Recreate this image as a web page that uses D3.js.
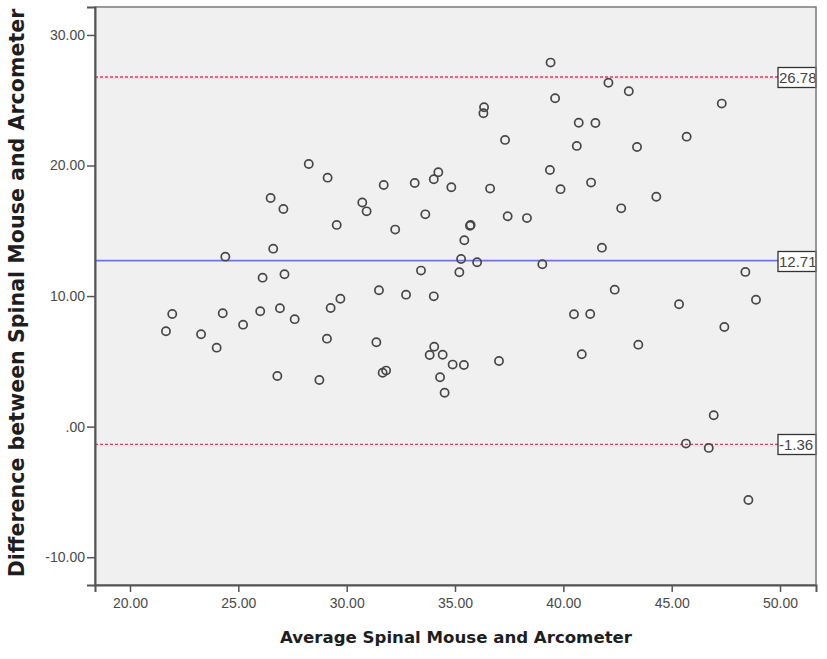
<!DOCTYPE html>
<html>
<head>
<meta charset="utf-8">
<script src="https://cdn.jsdelivr.net/npm/d3@7"></script>
<style>
  html, body { margin: 0; padding: 0; background: #ffffff; }
  svg { display: block; }
</style>
</head>
<body>
<svg id="chart" width="827" height="659"></svg>
<script>
// ---- data ----
const averages = [
  26.49, 27.08, 39.41, 39.62, 36.34, 36.31, 37.31, 28.25, 29.12, 31.71,
  33.14, 34.23, 34.02, 34.83, 36.62, 39.38, 39.87, 30.72, 30.92, 33.63,
  37.43, 38.32, 42.08, 43.02, 47.31, 40.71, 41.48, 40.62, 43.40, 45.69,
  41.28, 44.29, 42.67, 24.40, 26.61, 26.12, 27.13, 21.95, 21.66, 24.28,
  23.28, 24.00, 25.22, 26.01, 26.92, 27.60, 26.80, 29.54, 32.24, 35.69,
  35.72, 35.43, 35.28, 36.02, 39.03, 33.43, 35.20, 31.49, 32.74, 34.02,
  29.71, 29.26, 29.09, 31.37, 34.04, 33.83, 34.43, 34.89, 35.41, 37.03,
  28.74, 31.66, 31.82, 34.31, 34.52, 41.78, 48.40, 42.37, 48.89, 45.34,
  40.49, 41.24, 47.43, 43.46, 40.85, 46.94, 45.66, 46.71, 48.54
];
const differences = [
  17.51, 16.67, 27.88, 25.15, 24.46, 24.00, 21.96, 20.12, 19.07, 18.51,
  18.66, 19.48, 18.95, 18.33, 18.23, 19.66, 18.19, 17.17, 16.49, 16.26,
  16.11, 15.97, 26.34, 25.69, 24.74, 23.28, 23.26, 21.50, 21.42, 22.21,
  18.69, 17.61, 16.72, 13.02, 13.63, 11.41, 11.67, 8.63, 7.30, 8.68,
  7.07, 6.05, 7.81, 8.84, 9.07, 8.23, 3.88, 15.45, 15.09, 15.39,
  15.45, 14.27, 12.84, 12.59, 12.44, 11.95, 11.82, 10.44, 10.11, 9.98,
  9.80, 9.09, 6.74, 6.46, 6.12, 5.49, 5.51, 4.75, 4.72, 5.03,
  3.57, 4.13, 4.29, 3.78, 2.60, 13.71, 11.85, 10.49, 9.72, 9.37,
  8.61, 8.63, 7.63, 6.28, 5.54, 0.87, -1.30, -1.63, -5.62
];
const refValues = [26.78, 12.71, -1.36];
const refLabels = ["26.78", "12.71", "-1.36"];
const refKinds = ["limit", "mean", "limit"];
const xTickValues = [20, 25, 30, 35, 40, 45, 50];
const xTickLabels = ["20.00", "25.00", "30.00", "35.00", "40.00", "45.00", "50.00"];
const yTickValues = [-10, 0, 10, 20, 30];
const yTickLabels = ["-10.00", ".00", "10.00", "20.00", "30.00"];
const xTitle = "Average Spinal Mouse and Arcometer";
const yTitle = "Difference between Spinal Mouse and Arcometer";

// ---- layout ----
const plot = { left: 95, right: 816, top: 7, bottom: 585 };
const svg = d3.select("#chart");

const x = d3.scaleLinear().domain([18.385, 51.66]).range([plot.left, plot.right]);
const y = d3.scaleLinear().domain([-12.13, 32.14]).range([plot.bottom, plot.top]);

// plot background
svg.append("rect")
  .attr("x", plot.left).attr("y", plot.top)
  .attr("width", plot.right - plot.left).attr("height", plot.bottom - plot.top)
  .attr("fill", "#f0f0f0");

// reference lines
const boxW = 38, boxH = 20;
refValues.forEach((v, i) => {
  const yy = y(v);
  if (refKinds[i] === "mean") {
    svg.append("line")
      .attr("x1", plot.left).attr("x2", plot.right - boxW)
      .attr("y1", yy).attr("y2", yy)
      .attr("stroke", "#7070f4").attr("stroke-width", 1.8);
  } else {
    // faint pink halo below the dashed limit line
    svg.append("line")
      .attr("x1", plot.left).attr("x2", plot.right - boxW)
      .attr("y1", yy + 1.5).attr("y2", yy + 1.5)
      .attr("stroke", "#f7dce3").attr("stroke-width", 1.5);
    svg.append("line")
      .attr("x1", plot.left).attr("x2", plot.right - boxW)
      .attr("y1", yy).attr("y2", yy)
      .attr("stroke", "#e03a62").attr("stroke-width", 1.4).attr("stroke-dasharray", "3,2");
  }
});

// points
svg.append("g").selectAll("circle")
  .data(averages.map((a, i) => [a, differences[i]]))
  .join("circle")
  .attr("cx", d => x(d[0]))
  .attr("cy", d => y(d[1]))
  .attr("r", 4.1)
  .attr("fill", "none")
  .attr("stroke", "#474747")
  .attr("stroke-width", 1.7);

// reference labels (boxes)
const defs = svg.append("defs");
refValues.forEach((v, i) => {
  const yy = Math.round(y(v)) + 0.5;
  const bx = plot.right - boxW, by = yy - boxH / 2;
  defs.append("clipPath").attr("id", "clip" + i)
    .append("rect").attr("x", bx).attr("y", by).attr("width", boxW).attr("height", boxH);
  svg.append("rect")
    .attr("x", bx).attr("y", by).attr("width", boxW).attr("height", boxH)
    .attr("fill", "#ffffff").attr("stroke", "#333").attr("stroke-width", 1.3);
  svg.append("text")
    .attr("clip-path", "url(#clip" + i + ")")
    .attr("x", bx + 1).attr("y", yy + 5.5)
    .attr("font-family", "Liberation Sans, Arial, sans-serif")
    .attr("font-size", 15)
    .attr("fill", "#444")
    .text(refLabels[i]);
});

// frame
svg.append("rect")
  .attr("x", plot.left).attr("y", plot.top)
  .attr("width", plot.right - plot.left).attr("height", plot.bottom - plot.top)
  .attr("fill", "none").attr("stroke", "#7a7a7a").attr("stroke-width", 1.5);

// axes
const yAxis = d3.axisLeft(y).tickValues(yTickValues)
  .tickFormat((d, i) => yTickLabels[i]).tickSize(8).tickPadding(2);
const gy = svg.append("g").attr("transform", `translate(${plot.left},0)`).call(yAxis);
gy.select(".domain").attr("stroke", "#555").attr("stroke-width", 2);
gy.selectAll(".tick line").attr("stroke", "#555").attr("stroke-width", 1.5);
gy.selectAll(".tick text").attr("font-family", "Liberation Sans, Arial, sans-serif")
  .attr("font-size", 14).attr("fill", "#4a4a4a");

const xAxis = d3.axisBottom(x).tickValues(xTickValues)
  .tickFormat((d, i) => xTickLabels[i]).tickSize(7).tickPadding(6);
const gx = svg.append("g").attr("transform", `translate(0,${plot.bottom})`).call(xAxis);
gx.select(".domain").attr("stroke", "#555").attr("stroke-width", 2);
gx.selectAll(".tick line").attr("stroke", "#555").attr("stroke-width", 1.5);
gx.selectAll(".tick text").attr("font-family", "Liberation Sans, Arial, sans-serif")
  .attr("font-size", 14).attr("fill", "#4a4a4a");

// titles
svg.append("text")
  .attr("x", 456).attr("y", 643)
  .attr("text-anchor", "middle")
  .attr("font-family", "DejaVu Sans, Verdana, sans-serif")
  .attr("font-weight", "bold")
  .attr("font-size", 16.6)
  .attr("fill", "#1e1e1e")
  .text(xTitle);

svg.append("text")
  .attr("transform", "translate(24,293) rotate(-90)")
  .attr("text-anchor", "middle")
  .attr("font-family", "DejaVu Sans, Verdana, sans-serif")
  .attr("font-weight", "bold")
  .attr("font-size", 20.6)
  .attr("fill", "#1e1e1e")
  .text(yTitle);
</script>
</body>
</html>
